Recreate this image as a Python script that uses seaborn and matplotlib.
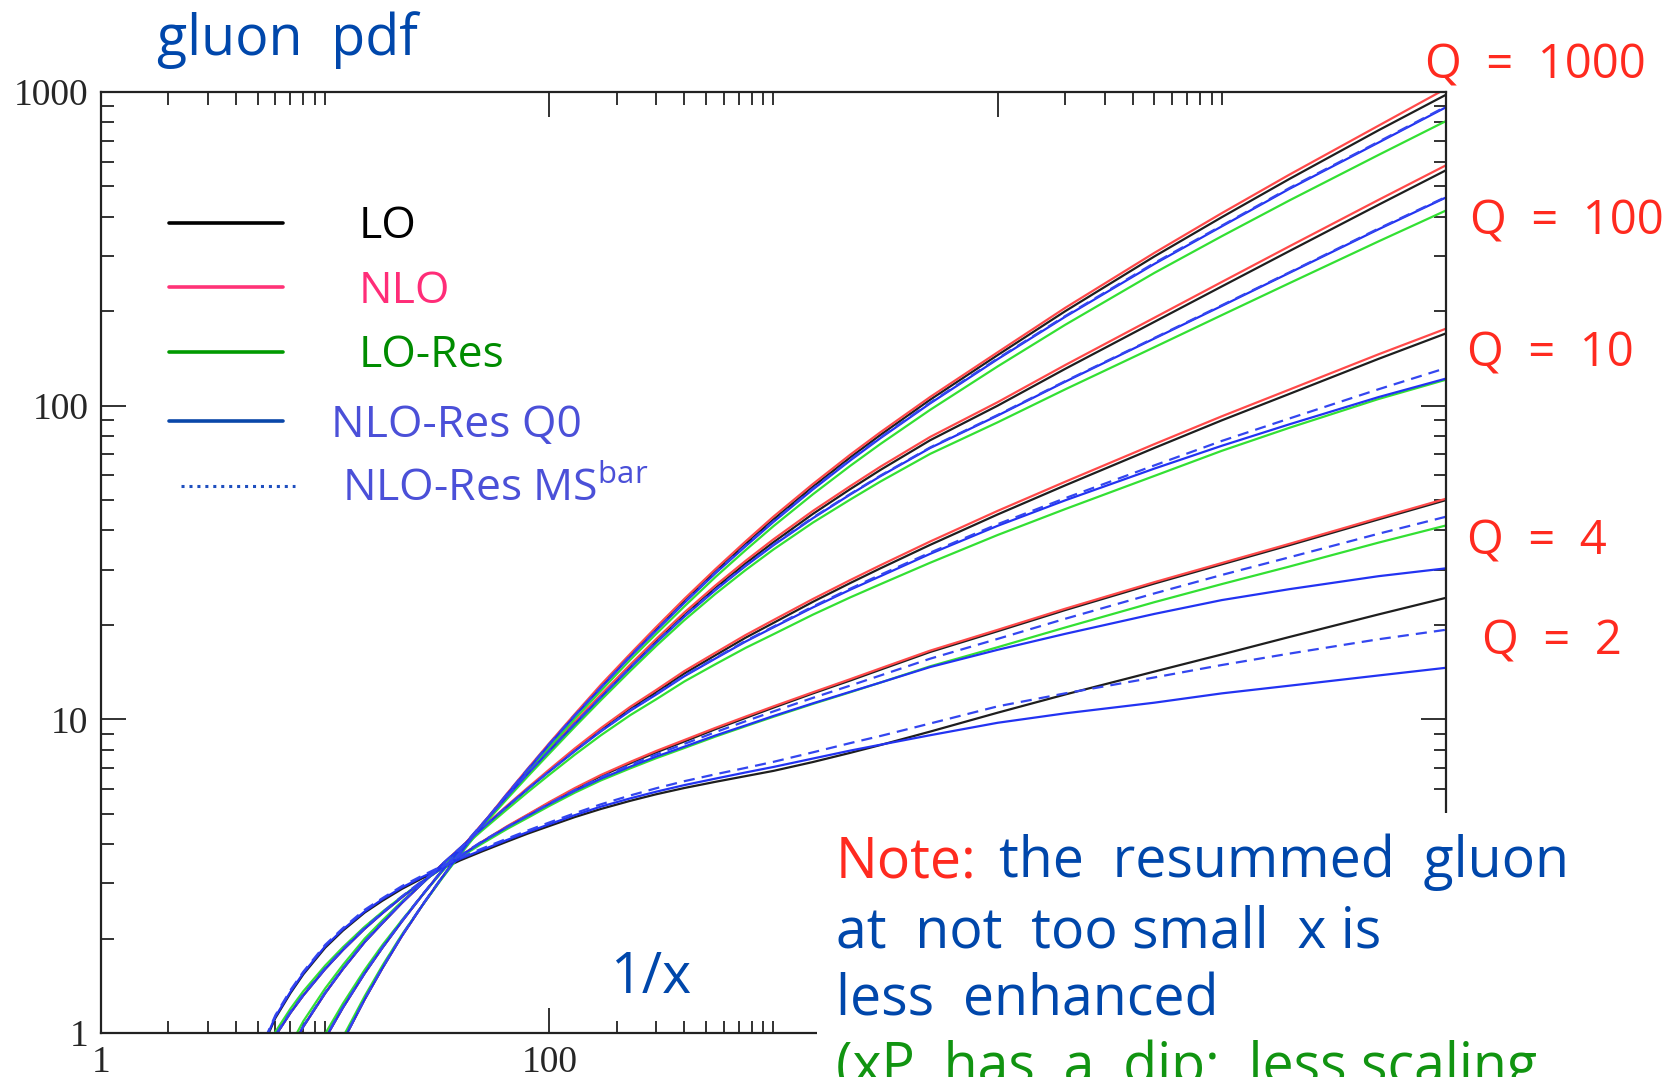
import numpy as np
import pandas as pd
import matplotlib
matplotlib.use("Agg")
import matplotlib.pyplot as plt
import seaborn as sns
from matplotlib.lines import Line2D
from matplotlib.patches import Rectangle
from matplotlib.ticker import FixedLocator, FixedFormatter, NullFormatter

# ---------------- data ----------------
inv_x = [5, 6, 7, 8, 10, 12, 15, 18, 22, 27, 33, 40, 50, 65, 80, 100, 130, 170, 230, 300,
         400, 550, 750, 1000, 1500, 2200, 3000, 5000, 1e4, 2e4, 5e4, 1e5, 2e5, 5e5, 1e6]

lo_q1000 = [0.184, 0.274, 0.376, 0.486, 0.714, 0.942, 1.28, 1.61, 2.04, 2.54, 3.11, 3.74, 4.59, 5.78, 6.90, 8.32, 10.3, 12.7, 16.0, 19.4,
            23.8, 29.6, 36.2, 43.4, 55.2, 68.4, 80.7, 104.5, 145, 200, 299, 399, 528, 755, 980]
nlo_q1000 = [0.184, 0.274, 0.376, 0.486, 0.714, 0.942, 1.28, 1.61, 2.04, 2.54, 3.11, 3.75, 4.61, 5.82, 6.96, 8.40, 10.4, 12.9, 16.2, 19.7,
             24.2, 30.1, 36.9, 44.3, 56.3, 69.8, 82.3, 106.6, 148, 205, 307, 411, 545, 781, 1025]
lores_q1000 = [0.191, 0.285, 0.391, 0.505, 0.739, 0.970, 1.31, 1.64, 2.06, 2.54, 3.09, 3.70, 4.52, 5.68, 6.76, 8.14, 10.04, 12.34, 15.5, 18.74,
               22.9, 28.4, 34.6, 41.3, 52.2, 64.3, 75.5, 97.0, 133.4, 181, 265, 347, 451, 630, 808]
q0_q1000 = [0.184, 0.274, 0.376, 0.486, 0.714, 0.942, 1.28, 1.61, 2.04, 2.54, 3.11, 3.74, 4.59, 5.78, 6.90, 8.32, 10.27, 12.62, 15.87, 19.2,
            23.5, 29.2, 35.6, 42.6, 54.1, 66.9, 78.8, 101.7, 140.7, 192, 283, 373, 491, 690, 894]
ms_q1000 = [0.185, 0.275, 0.377, 0.488, 0.717, 0.946, 1.285, 1.617, 2.05, 2.55, 3.12, 3.755, 4.61, 5.80, 6.93, 8.35, 10.32, 12.68, 15.95, 19.3,
            23.6, 29.35, 35.8, 42.8, 54.4, 67.3, 79.2, 102.2, 141.4, 193, 285, 375, 494, 694, 899]

lo_q100 = [0.294, 0.418, 0.55, 0.686, 0.96, 1.205, 1.55, 1.87, 2.27, 2.74, 3.27, 3.84, 4.61, 5.69, 6.70, 7.96, 9.70, 11.83, 14.72, 17.74,
           21.5, 26.2, 31.4, 36.7, 45.2, 54.2, 62.4, 77.6, 100, 131, 185, 240, 311, 437, 563]
nlo_q100 = [0.294, 0.418, 0.55, 0.686, 0.96, 1.205, 1.55, 1.87, 2.27, 2.74, 3.27, 3.85, 4.63, 5.73, 6.75, 8.04, 9.82, 12.0, 14.96, 18.04,
            21.9, 26.7, 32.0, 37.5, 46.2, 55.4, 63.9, 79.5, 102.6, 134.7, 190.7, 248, 322, 453, 584]
lores_q100 = [0.306, 0.435, 0.572, 0.713, 0.994, 1.241, 1.589, 1.907, 2.29, 2.74, 3.25, 3.80, 4.54, 5.59, 6.57, 7.78, 9.47, 11.52, 14.28, 17.15,
              20.7, 25.1, 29.9, 34.8, 42.4, 50.2, 57.3, 70.2, 88.5, 112.7, 153.6, 194.4, 245.7, 334, 419]
q0_q100 = [0.294, 0.418, 0.55, 0.686, 0.96, 1.205, 1.55, 1.87, 2.27, 2.74, 3.27, 3.84, 4.61, 5.69, 6.70, 7.94, 9.66, 11.76, 14.6, 17.56,
           21.24, 25.8, 30.8, 35.9, 43.8, 52.1, 59.6, 73.3, 93.0, 119.2, 163.7, 208, 265, 365, 461]
ms_q100 = [0.295, 0.42, 0.552, 0.689, 0.964, 1.21, 1.556, 1.878, 2.28, 2.75, 3.28, 3.855, 4.63, 5.71, 6.72, 7.96, 9.70, 11.8, 14.66, 17.63,
           21.33, 25.9, 30.9, 36.05, 44.0, 52.3, 59.85, 73.6, 93.4, 119.7, 164.4, 209, 266, 367, 463]

lo_q10 = [0.528, 0.706, 0.881, 1.05, 1.34, 1.60, 1.95, 2.24, 2.60, 2.99, 3.43, 3.88, 4.48, 5.28, 6.0, 6.85, 7.98, 9.25, 10.8, 12.2,
          14.0, 16.0, 18.2, 20.3, 23.7, 27.2, 30.3, 36.0, 45.0, 55.7, 73.3, 89.8, 109, 141, 170]
nlo_q10 = [0.528, 0.706, 0.881, 1.05, 1.34, 1.60, 1.95, 2.24, 2.60, 2.99, 3.43, 3.89, 4.50, 5.32, 6.05, 6.92, 8.08, 9.38, 10.97, 12.41,
           14.25, 16.3, 18.56, 20.73, 24.2, 27.8, 31.0, 36.9, 46.2, 57.2, 75.4, 92.5, 112.5, 145.8, 176]
lores_q10 = [0.549, 0.734, 0.916, 1.092, 1.387, 1.648, 1.999, 2.285, 2.626, 2.99, 3.413, 3.841, 4.413, 5.174, 5.856, 6.658, 7.717, 8.90, 10.32, 11.59,
             13.2, 14.98, 16.89, 18.68, 21.57, 24.48, 26.97, 31.57, 38.7, 46.8, 59.7, 71.8, 85.0, 105, 121]
q0_q10 = [0.528, 0.706, 0.881, 1.05, 1.34, 1.60, 1.95, 2.24, 2.60, 2.99, 3.43, 3.88, 4.48, 5.28, 5.99, 6.82, 7.92, 9.16, 10.66, 12.0,
          13.72, 15.62, 17.69, 19.65, 22.75, 25.9, 28.6, 33.7, 41.4, 49.9, 63.0, 74.5, 87.2, 106.5, 122]
ms_q10 = [0.53, 0.709, 0.885, 1.055, 1.346, 1.607, 1.958, 2.25, 2.61, 3.0, 3.44, 3.89, 4.49, 5.29, 5.99, 6.83, 7.94, 9.18, 10.69, 12.04,
          13.78, 15.68, 17.78, 19.75, 22.9, 26.1, 28.9, 34.0, 41.9, 50.7, 64.5, 77.2, 91.0, 112.8, 131.8]

lo_q4 = [0.78, 0.98, 1.16, 1.32, 1.60, 1.84, 2.15, 2.41, 2.71, 3.03, 3.35, 3.66, 4.06, 4.55, 4.95, 5.42, 6.0, 6.6, 7.25, 7.85,
         8.5, 9.3, 10.1, 10.9, 12.1, 13.3, 14.4, 16.4, 19.1, 22.3, 27.1, 31.2, 35.9, 43.4, 50.0]
nlo_q4 = [0.78, 0.98, 1.16, 1.32, 1.60, 1.84, 2.15, 2.41, 2.71, 3.03, 3.35, 3.67, 4.07, 4.57, 4.97, 5.45, 6.04, 6.65, 7.32, 7.93,
          8.59, 9.39, 10.2, 11.0, 12.2, 13.43, 14.54, 16.56, 19.29, 22.52, 27.37, 31.5, 36.26, 43.83, 50.5]
lores_q4 = [0.803, 1.009, 1.195, 1.36, 1.64, 1.877, 2.182, 2.434, 2.724, 3.03, 3.337, 3.631, 4.011, 4.477, 4.851, 5.295, 5.838, 6.389, 6.982, 7.52,
            8.10, 8.807, 9.504, 10.19, 11.2, 12.2, 13.1, 14.76, 16.98, 19.62, 23.63, 26.99, 30.69, 36.59, 41.5]
q0_q4 = [0.78, 0.98, 1.16, 1.32, 1.60, 1.84, 2.15, 2.41, 2.71, 3.03, 3.35, 3.66, 4.06, 4.54, 4.92, 5.37, 5.92, 6.47, 7.07, 7.61,
         8.18, 8.88, 9.56, 10.25, 11.25, 12.24, 13.1, 14.68, 16.66, 18.73, 21.68, 24.0, 26.0, 28.6, 30.3]
ms_q4 = [0.785, 0.986, 1.167, 1.328, 1.61, 1.85, 2.163, 2.425, 2.726, 3.05, 3.37, 3.68, 4.08, 4.54, 4.93, 5.39, 5.95, 6.53, 7.16, 7.73,
         8.35, 9.1, 9.86, 10.6, 11.71, 12.81, 13.8, 15.61, 18.05, 20.92, 25.2, 28.86, 32.85, 39.06, 44.25]

lo_q2 = [0.83, 1.117, 1.34, 1.54, 1.87, 2.12, 2.42, 2.64, 2.88, 3.11, 3.33, 3.55, 3.79, 4.08, 4.32, 4.57, 4.88, 5.18, 5.50, 5.77,
         6.04, 6.32, 6.59, 6.85, 7.31, 7.82, 8.28, 9.14, 10.5, 12.0, 14.2, 16.1, 18.3, 21.6, 24.4]
q0_q2 = [0.84, 1.128, 1.353, 1.555, 1.89, 2.14, 2.44, 2.67, 2.91, 3.14, 3.36, 3.59, 3.83, 4.13, 4.37, 4.63, 4.95, 5.27, 5.6, 5.88,
         6.17, 6.47, 6.77, 7.05, 7.5, 7.95, 8.3, 8.9, 9.75, 10.45, 11.3, 12.1, 12.8, 13.8, 14.6]
ms_q2 = [0.85, 1.14, 1.37, 1.57, 1.91, 2.16, 2.47, 2.69, 2.94, 3.17, 3.40, 3.62, 3.87, 4.17, 4.42, 4.69, 5.02, 5.36, 5.72, 6.03,
         6.35, 6.68, 7.0, 7.32, 7.85, 8.4, 8.85, 9.7, 11.0, 12.1, 13.6, 14.9, 16.2, 18.0, 19.3]

series_names = ["LO", "NLO", "LO-Res", "NLO-Res Q0", "NLO-Res MSbar"]
q_labels = ["Q  =  1000", "Q  =  100", "Q  =  10", "Q  =  4", "Q  =  2"]

curves = [
    ("1000", "LO", lo_q1000), ("1000", "NLO", nlo_q1000), ("1000", "LO-Res", lores_q1000),
    ("1000", "NLO-Res Q0", q0_q1000), ("1000", "NLO-Res MSbar", ms_q1000),
    ("100", "LO", lo_q100), ("100", "NLO", nlo_q100), ("100", "LO-Res", lores_q100),
    ("100", "NLO-Res Q0", q0_q100), ("100", "NLO-Res MSbar", ms_q100),
    ("10", "LO", lo_q10), ("10", "NLO", nlo_q10), ("10", "LO-Res", lores_q10),
    ("10", "NLO-Res Q0", q0_q10), ("10", "NLO-Res MSbar", ms_q10),
    ("4", "LO", lo_q4), ("4", "NLO", nlo_q4), ("4", "LO-Res", lores_q4),
    ("4", "NLO-Res Q0", q0_q4), ("4", "NLO-Res MSbar", ms_q4),
    ("2", "LO", lo_q2), ("2", "NLO-Res Q0", q0_q2), ("2", "NLO-Res MSbar", ms_q2),
]

rows = []
for q, s, vals in curves:
    for xv, yv in zip(inv_x, vals):
        rows.append({"inv_x": xv, "gluon": yv, "series": s, "Q": q})
df = pd.DataFrame(rows)

# ---------------- style ----------------
sns.set_style("ticks")
FONT = "Open Sans"
plt.rcParams["font.family"] = [FONT, "DejaVu Sans"]
plt.rcParams["mathtext.fontset"] = "custom"
plt.rcParams["mathtext.rm"] = FONT
plt.rcParams["mathtext.it"] = FONT + ":italic"

BLUE_TXT = "#0047ab"
RED_TXT = "#ff2a1f"
GREEN_TXT = "#119411"

palette = {"LO": "#1e1e1e", "NLO": "#ff4a4a", "LO-Res": "#33e033",
           "NLO-Res Q0": "#2233f2", "NLO-Res MSbar": "#3346f0"}
dashes = {"LO": "", "NLO": "", "LO-Res": "", "NLO-Res Q0": "", "NLO-Res MSbar": (5, 3.2)}

W, H = 1674, 1077
fig = plt.figure(figsize=(W / 100, H / 100), dpi=100)
ax = fig.add_axes([101 / W, 1 - 1033 / H, 1345 / W, 941 / H])

sns.lineplot(data=df, x="inv_x", y="gluon", hue="series", style="series",
             units="Q", estimator=None, sort=False,
             hue_order=series_names, style_order=series_names,
             palette=palette, dashes=dashes, linewidth=1.6,
             legend=False, ax=ax)

ax.set_xscale("log")
ax.set_yscale("log")
ax.set_xlim(1, 1e6)
ax.set_ylim(1, 1000)
ax.set_xlabel("")
ax.set_ylabel("")

xmaj = [1, 100, 1e4, 1e6]
xmin = [m * 10 ** (2 * k) for k in range(3) for m in range(2, 11)]
ymaj = [1, 10, 100, 1000]
ymin = [m * 10 ** k for k in range(3) for m in range(2, 10)]
ax.xaxis.set_major_locator(FixedLocator(xmaj))
ax.xaxis.set_major_formatter(FixedFormatter(["1", "100", "10000", "1000000"]))
ax.xaxis.set_minor_locator(FixedLocator(xmin))
ax.xaxis.set_minor_formatter(NullFormatter())
ax.yaxis.set_major_locator(FixedLocator(ymaj))
ax.yaxis.set_major_formatter(FixedFormatter(["1", "10", "100", "1000"]))
ax.yaxis.set_minor_locator(FixedLocator(ymin))
ax.yaxis.set_minor_formatter(NullFormatter())

ax.tick_params(which="both", direction="in", top=True, right=True, color="#222222")
ax.tick_params(which="major", length=18, width=1.3, labelsize=27, pad=9)
ax.tick_params(which="minor", length=9, width=1.3)
for lab in ax.get_xticklabels() + ax.get_yticklabels():
    lab.set_fontfamily("Liberation Serif")
for sp in ax.spines.values():
    sp.set_linewidth(1.6)
    sp.set_color("#222222")

# legend (three blocks, as in the original the entries are not aligned)
h1 = [Line2D([], [], color="black", lw=2.6),
      Line2D([], [], color="#ff3377", lw=2.6),
      Line2D([], [], color="#009a00", lw=2.6)]
leg1 = ax.legend(h1, ["LO", "NLO", "LO-Res"], loc="upper left", bbox_to_anchor=(0.0506, 0.880),
                 frameon=False, fontsize=32, handlelength=2.57, handletextpad=1.69,
                 labelspacing=0.45, borderpad=0, borderaxespad=0)
for t, c in zip(leg1.get_texts(), ["black", "#ff2d78", "#008c00"]):
    t.set_color(c)
ax.add_artist(leg1)
leg2 = ax.legend([Line2D([], [], color="#0a47a9", lw=2.6)], ["NLO-Res Q0"], loc="upper left",
                 bbox_to_anchor=(0.0506, 0.6695), frameon=False, fontsize=32,
                 handlelength=2.57, handletextpad=1.07, borderpad=0, borderaxespad=0)
leg2.get_texts()[0].set_color("#4b50d8")
ax.add_artist(leg2)
leg3 = ax.legend([Line2D([], [], color="#1f4fbf", lw=2.2, linestyle=(0, (1, 1.6)))],
                 [r"NLO-Res MS$^{\mathrm{bar}}$"], loc="upper left",
                 bbox_to_anchor=(0.0595, 0.601), frameon=False, fontsize=32,
                 handlelength=2.57, handletextpad=1.06, borderpad=0, borderaxespad=0)
leg3.get_texts()[0].set_color("#4b50d8")

# 1/x label
ax.text(186, 1.34, "1/x", color=BLUE_TXT, fontsize=40, va="baseline", ha="left")

# title
fig.text(157 / W, 1 - 55 / H, "gluon  pdf", color=BLUE_TXT, fontsize=40, va="baseline", ha="left")

# Q labels
q_pos = [(1425, 79), (1470, 234), (1467, 367), (1467, 554), (1482, 655)]
for lab, (px, py) in zip(q_labels, q_pos):
    fig.text(px / W, 1 - py / H, lab, color=RED_TXT, fontsize=34, va="baseline", ha="left")

# white panel in the lower right with the note
fig.add_artist(Rectangle((817 / W, 0), 1 - 817 / W, 1 - 813 / H, transform=fig.transFigure,
                         facecolor="white", edgecolor="none", zorder=5))
t_note = fig.text(836 / W, 1 - 877 / H, "Note:", color=RED_TXT, fontsize=40,
                  va="baseline", ha="left", zorder=10)
fig.canvas.draw()
bb = t_note.get_window_extent()
fig.text((bb.x1 + 22) / W, 1 - 877 / H, "the  resummed  gluon", color=BLUE_TXT, fontsize=40,
         va="baseline", ha="left", zorder=10)
fig.text(836 / W, 1 - 947 / H, "at  not  too small  x is", color=BLUE_TXT, fontsize=40,
         va="baseline", ha="left", zorder=10)
fig.text(836 / W, 1 - 1015 / H, "less  enhanced", color=BLUE_TXT, fontsize=40,
         va="baseline", ha="left", zorder=10)
fig.text(836 / W, 1 - 1083 / H, "(xP  has  a  dip;  less scaling", color=GREEN_TXT, fontsize=40,
         va="baseline", ha="left", zorder=10)

fig.savefig("out.png", dpi=100)
